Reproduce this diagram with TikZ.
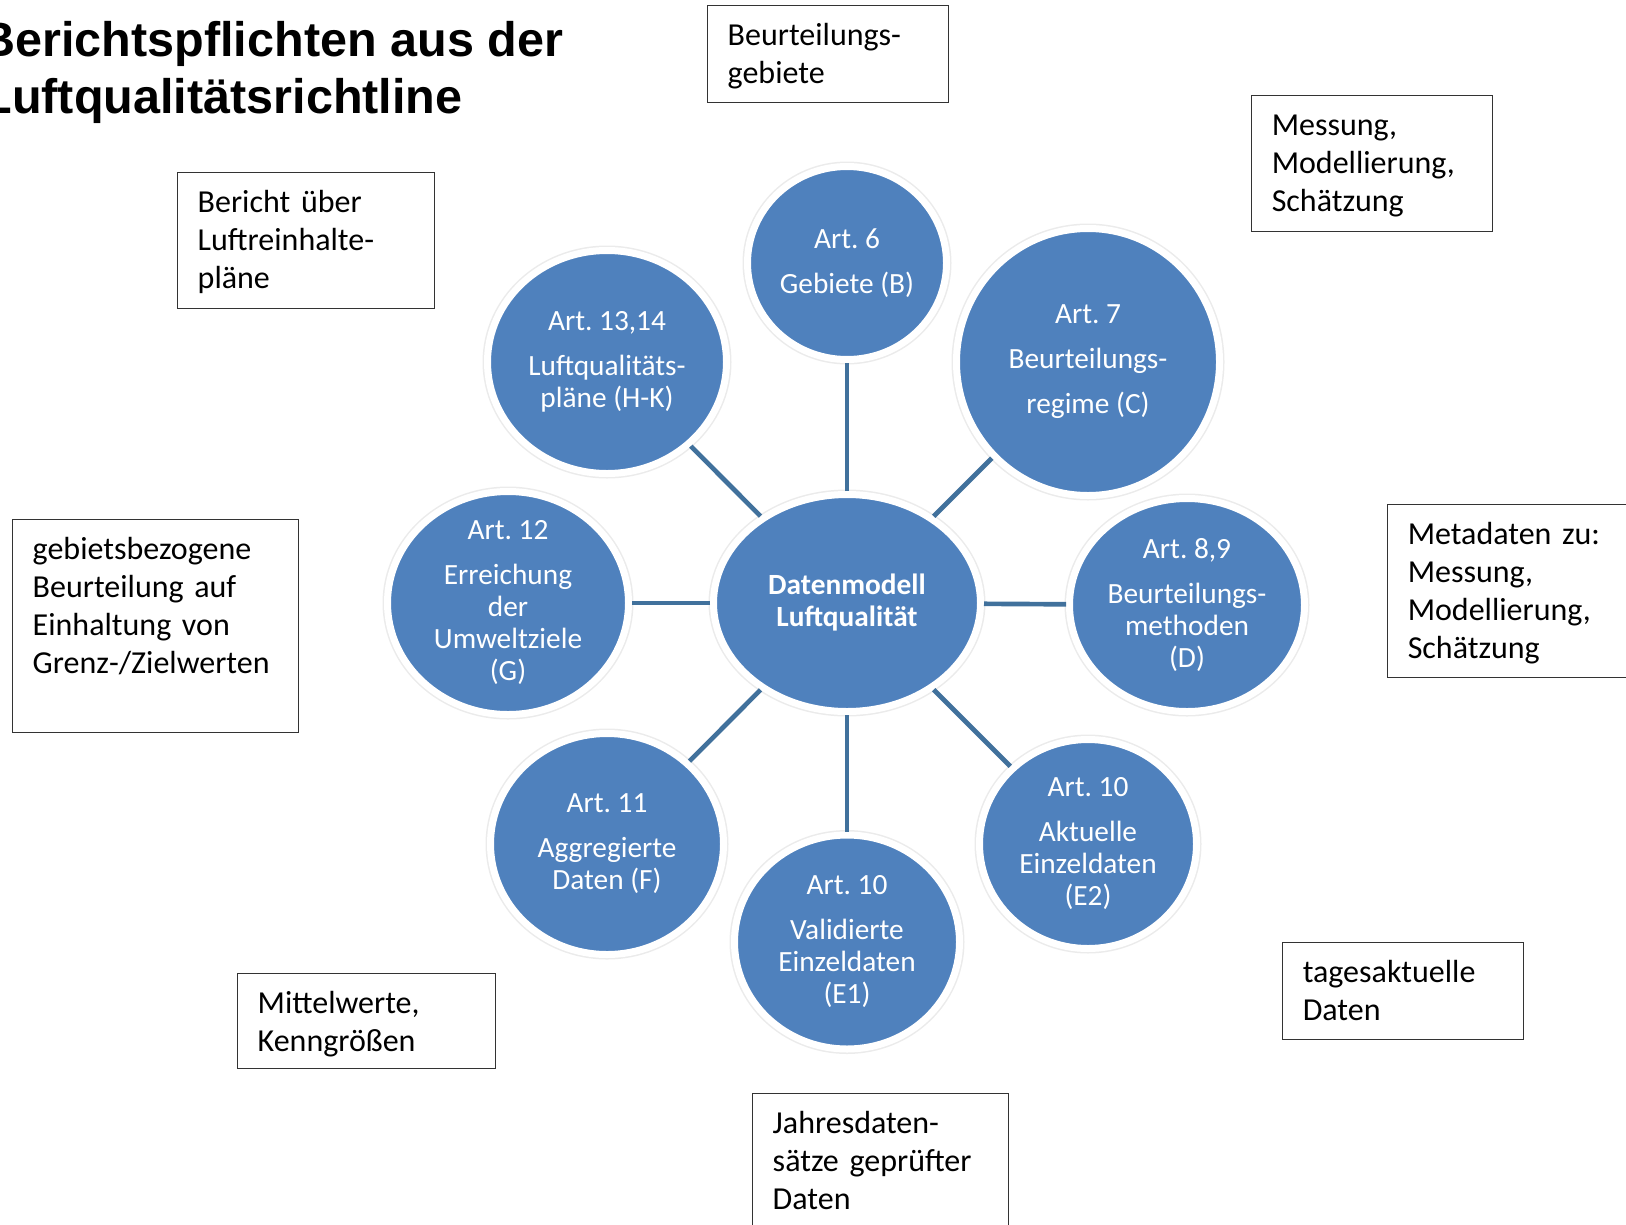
\documentclass[tikz,border=0pt]{standalone}
\usepackage{fontspec}
\setmainfont{Carlito}
\newfontfamily\titelfont{Liberation Sans}
\usetikzlibrary{shapes.geometric}
\frenchspacing

\definecolor{kreisblau}{RGB}{79,129,189}
\definecolor{linienblau}{RGB}{65,113,156}

\tikzset{every picture/.style={line width=0.75pt}}
\tikzset{
  kreis/.style 2 args={ellipse, fill=kreisblau, draw=white, line width=5.25pt,
    preaction={draw=black!8, line width=7.5pt},
    minimum width=#1, minimum height=#2, inner sep=0pt},
  kreistext/.style={text=white, align=center, inner sep=0pt,
    font=\fontsize{22}{24}\selectfont},
  infobox/.style 2 args={draw=black!80, line width=1.1pt, anchor=north west,
    align=left, font=\fontsize{24}{28.5}\selectfont,
    inner xsep=15pt, inner ysep=0pt, text height=30pt,
    text width=#1, text depth=#2},
  titel/.style={anchor=base west, inner sep=0pt,
    font=\titelfont\bfseries\fontsize{36.4}{43}\selectfont},
  verbinder/.style={draw=linienblau, line width=3.5pt},
}

\begin{document}
\begin{tikzpicture}[x=0.75pt,y=0.75pt,yscale=-1,xscale=1]
  \useasboundingbox (0,0) rectangle (1626,1224);

  % Titel
  \node[titel] (titel1) at (-20,56) {Berichtspflichten aus der};
  \node[titel] (titel2) at (-18,113) {Luftqualitätsrichtline};

  % Kreise
  \node[kreis={200.25pt}{162.75pt}, text=white, align=center,
        font=\bfseries\fontsize{22}{24}\selectfont] (zentrum) at (847,603)
        {Datenmodell\\Luftqualität};
  \node[kreis={149.25pt}{144.75pt}] (art6) at (847,263) {};
  \node[kreis={197.25pt}{200.25pt}] (art7) at (1088,362) {};
  \node[kreis={176.25pt}{159.75pt}] (art89) at (1187,605) {};
  \node[kreis={162.75pt}{156.75pt}] (art10b) at (1088,844) {};
  \node[kreis={168.75pt}{160.5pt}] (art10a) at (847,942) {};
  \node[kreis={174.75pt}{165.75pt}] (art11) at (607,844) {};
  \node[kreis={180.75pt}{167.25pt}] (art12) at (508,603) {};
  \node[kreis={179.25pt}{167.25pt}] (art1314) at (607,362) {};

  % Texte in den Kreisen
  \node[kreistext] (art6-t) at (art6) {Art. 6\\[9.75pt]Gebiete (B)};
  \node[kreistext] (art7-t) at (art7) {Art. 7\\[9.75pt]Beurteilungs-\\[9.75pt]regime (C)};
  \node[kreistext] (art89-t) at (art89) {Art. 8,9\\[9.75pt]Beurteilungs-\\methoden\\(D)};
  \node[kreistext] (art10b-t) at (art10b) {Art. 10\\[9.75pt]Aktuelle\\Einzeldaten\\(E2)};
  \node[kreistext] (art10a-t) at (art10a) {Art. 10\\[9.75pt]Validierte\\Einzeldaten\\(E1)};
  \node[kreistext] (art11-t) at (art11) {Art. 11\\[9.75pt]Aggregierte\\Daten (F)};
  \node[kreistext] (art12-t) at (art12) {Art. 12\\[9.75pt]Erreichung\\der\\Umweltziele\\(G)};
  \node[kreistext] (art1314-t) at (art1314) {Art. 13,14\\[9.75pt]Luftqualitäts-\\pläne (H-K)};

  % Verbindungen
  \draw[verbinder] (zentrum) -- (art6);
  \draw[verbinder] (zentrum) -- (art7);
  \draw[verbinder] (zentrum) -- (art89);
  \draw[verbinder] (zentrum) -- (art10b);
  \draw[verbinder] (zentrum) -- (art10a);
  \draw[verbinder] (zentrum) -- (art11);
  \draw[verbinder] (zentrum) -- (art12);
  \draw[verbinder] (zentrum) -- (art1314);

  % Kaesten
  \node[infobox={150.75pt}{42.75pt}] (gebiete) at (707,5) {Beurteilungs-\\gebiete};
  \node[infobox={150.75pt}{72pt}] (messung) at (1251,95) {Messung,\\Modellierung,\\Schätzung};
  \node[infobox={162.75pt}{72pt}] (bericht) at (177,172) {Bericht über\\Luftreinhalte-\\pläne};
  \node[infobox={184.5pt}{129.75pt}] (gebietsbez) at (12,519) {gebietsbezogene\\Beurteilung auf\\Einhaltung von\\Grenz-/Zielwerten};
  \node[infobox={165pt}{99.75pt}] (metadaten) at (1387,504) {Metadaten zu:\\Messung,\\Modellierung,\\Schätzung};
  \node[infobox={150.75pt}{42.75pt}] (tages) at (1282,942) {tagesaktuelle\\Daten};
  \node[infobox={163.5pt}{41.25pt}] (mittel) at (237,973) {Mittelwerte,\\Kenngrößen};
  \node[infobox={162pt}{90pt}] (jahres) at (752,1093) {Jahresdaten-\\sätze geprüfter\\Daten};

\end{tikzpicture}
\end{document}
